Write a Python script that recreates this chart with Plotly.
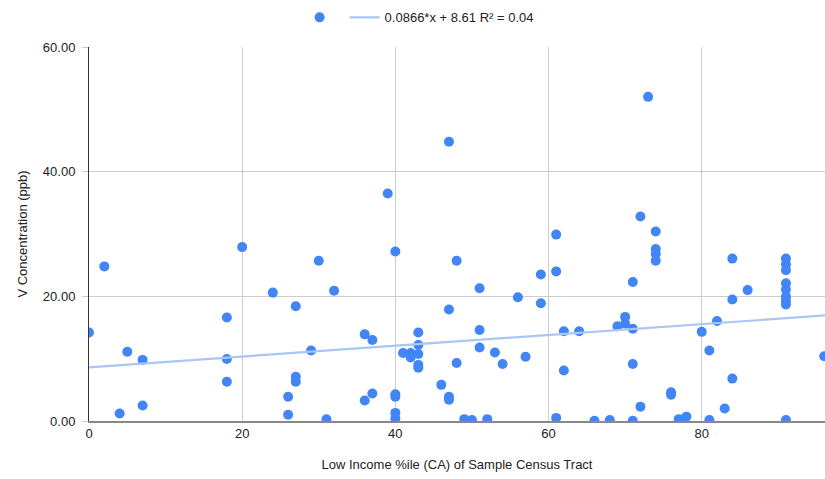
import plotly.graph_objects as go

# Data
low_income_pct = [0, 2, 4, 5, 7, 7, 18, 18, 18, 20, 24, 26, 26, 27, 27, 27, 29, 30, 31, 32,
                  36, 36, 37, 37, 39, 40, 40, 40, 40, 40, 41, 42, 42, 43, 43, 43, 43, 43, 46,
                  47, 47, 47, 47, 48, 48, 49, 50, 51, 51, 51, 52, 53, 54, 56, 57, 59, 59, 61,
                  61, 61, 62, 62, 64, 66, 68, 69, 70, 70, 71, 71, 71, 71, 72, 72, 73, 74, 74,
                  74, 74, 76, 76, 77, 78, 80, 81, 81, 82, 83, 84, 84, 84, 86, 91, 91, 91, 91,
                  91, 91, 91, 91, 91, 96]
v_conc_ppb = [14.2, 24.8, 1.2, 11.1, 9.8, 2.5, 16.6, 9.95, 6.3, 27.9, 20.6, 3.9, 1.0, 18.4,
              7.1, 6.3, 11.3, 25.7, 0.27, 20.9, 13.9, 3.3, 13.0, 4.4, 36.5, 27.2, 4.3, 3.9,
              1.3, 0.4, 10.9, 10.9, 10.2, 14.2, 12.2, 10.75, 9.0, 8.55, 5.8, 44.8, 17.9, 3.9,
              3.4, 25.7, 9.3, 0.3, 0.16, 21.3, 14.6, 11.8, 0.3, 11.0, 9.15, 19.85, 10.3, 23.5,
              18.9, 29.9, 24.0, 0.5, 14.4, 8.1, 14.4, 0.05, 0.16, 15.2, 16.7, 15.6, 22.3, 14.8,
              9.15, 0.05, 32.8, 2.3, 52.0, 30.4, 27.6, 26.8, 25.7, 4.6, 4.2, 0.3, 0.7, 14.3,
              11.3, 0.16, 16.05, 2.0, 26.05, 19.5, 6.8, 21.0, 26.05, 25.15, 24.2, 22.1, 21.1,
              19.95, 19.3, 18.7, 0.16, 10.4]

trend_slope = 0.0866
trend_intercept = 8.61
trend_label = "0.0866*x + 8.61 R² = 0.04"
x_range = [0, 96.1]
y_ticks = [0, 20, 40, 60]
x_ticks = [0, 20, 40, 60, 80]

trend_x = list(x_range)
trend_y = [trend_slope * v + trend_intercept for v in trend_x]

font_family = "Liberation Sans, Arial, sans-serif"
text_color = "#222222"

fig = go.Figure()
fig.add_trace(go.Scatter(
    x=low_income_pct, y=v_conc_ppb, mode="markers", name="",
    marker=dict(color="#4285F4", size=10, line=dict(width=0)),
))
fig.add_trace(go.Scatter(
    x=trend_x, y=trend_y, mode="lines", name=trend_label,
    line=dict(color="#A9C6F5", width=2.2),
))

fig.update_layout(
    width=825, height=479,
    margin=dict(l=89, r=0, t=47, b=58, autoexpand=False),
    paper_bgcolor="white", plot_bgcolor="white",
    font=dict(family=font_family, size=13, color=text_color),
    showlegend=True,
    legend=dict(
        orientation="h", xref="container", yref="container",
        x=0.508, xanchor="center", y=0.995, yanchor="top",
        font=dict(size=13, color=text_color),
        itemwidth=30, traceorder="normal",
    ),
    xaxis=dict(
        range=x_range, tickvals=x_ticks, ticktext=[str(v) for v in x_ticks],
        showgrid=True, gridcolor="#CCCCCC", gridwidth=1,
        zeroline=False, showline=True, linecolor="#888888", linewidth=1.5,
        ticks="", tickfont=dict(size=13, color=text_color),
        title=dict(text="Low Income %ile (CA) of Sample Census Tract",
                   font=dict(size=13, color=text_color), standoff=20),
        fixedrange=True,
    ),
    yaxis=dict(
        range=[0, 60], tickvals=y_ticks, tickformat=".2f",
        showgrid=True, gridcolor="#CCCCCC", gridwidth=1,
        zeroline=False, showline=True, linecolor="#333333", linewidth=1,
        ticks="outside", ticklen=6, tickcolor="#CCCCCC",
        tickfont=dict(size=13, color=text_color), ticklabelstandoff=4,
        title=dict(text="V Concentration (ppb)",
                   font=dict(size=13, color=text_color), standoff=12),
        fixedrange=True,
    ),
)

fig.write_html("out.html", config={"displayModeBar": False},
               post_script="document.body.style.margin='0';")
